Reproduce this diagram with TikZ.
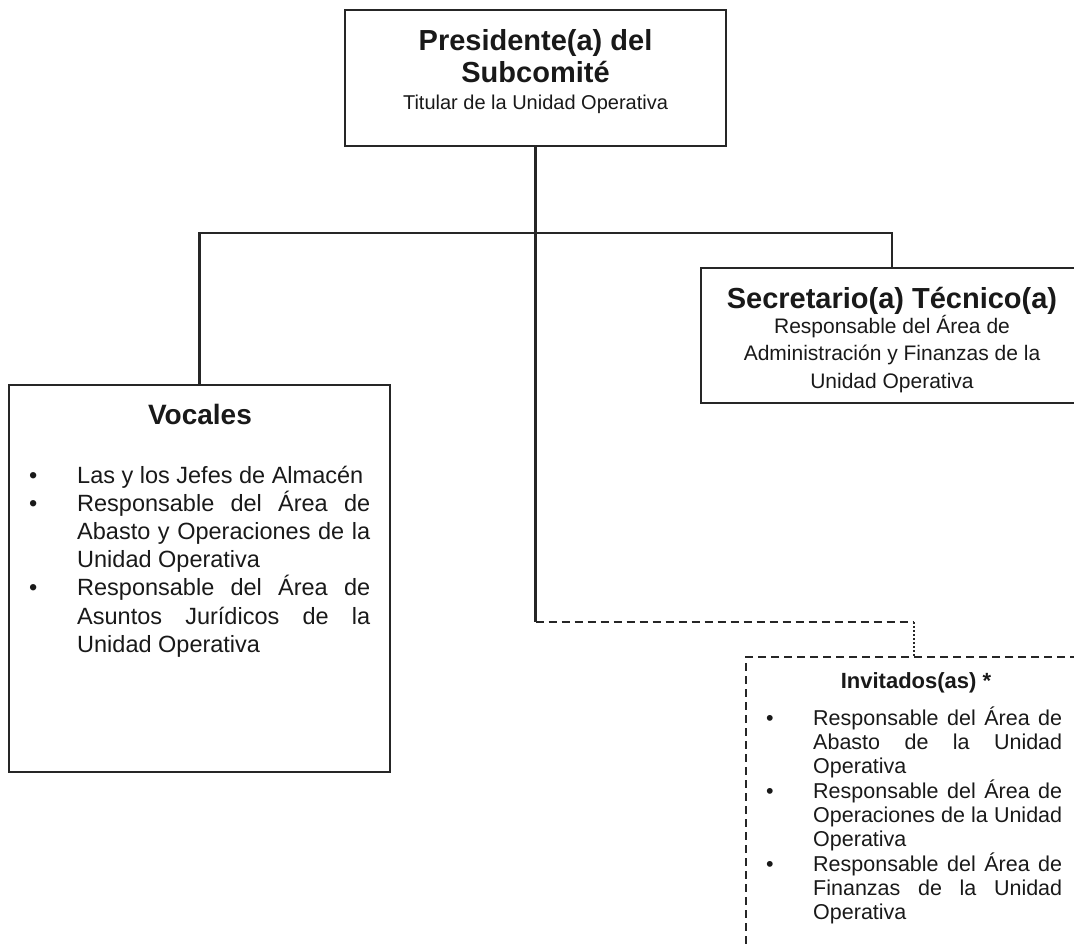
\documentclass[tikz,border=0pt]{standalone}
\usepackage{fontspec}
\setmainfont{Liberation Sans}

\newlength{\sangria}
\newcommand{\vineta}[1]{\par\noindent\hangindent=\sangria\hangafter=1%
  \makebox[\sangria][l]{\textbullet}#1\par}

\begin{document}
\begin{tikzpicture}[x=1pt,y=-1pt,
    caja/.style={draw=black!85,line width=2.2pt,rectangle,inner sep=0pt},
    cajainv/.style={draw=black!85,line width=2.2pt,dash pattern=on 8pt off 5pt,rectangle,inner sep=0pt},
    linea/.style={draw=black!85,line width=2.2pt},
    discontinua/.style={draw=black!85,line width=2pt,dash pattern=on 8pt off 5pt},
    punteada/.style={draw=black!85,line width=1.5pt,dash pattern=on 2pt off 2pt},
    texto/.style={inner sep=0pt,text=black!90}]
  \useasboundingbox (0,0) rectangle (1074,945);
  \clip (0,0) rectangle (1074,945);

  \node[caja,minimum width=381,minimum height=136] (pres) at (535.5,78) {};
  \node[caja,minimum width=382,minimum height=135] (secretario) at (892,335.5) {};
  \node[caja,minimum width=381,minimum height=387] (vocales) at (199.5,578.5) {};
  \node[cajainv,minimum width=336,minimum height=310] (invitados) at (914,812) {};

  \node[texto,anchor=north,align=center,font=\bfseries\fontsize{29}{32}\selectfont] (prestit) at (535.5,29.3)
    {Presidente(a) del\\Subcomité};
  \node[texto,anchor=north,font=\fontsize{20}{24}\selectfont] (pressub) at (535.5,95)
    {Titular de la Unidad Operativa};

  \node[texto,anchor=north,font=\bfseries\fontsize{29}{32}\selectfont] (sectit) at (892,287.5)
    {Secretario(a) Técnico(a)};
  \node[texto,anchor=north,align=center,font=\fontsize{21}{27.5}\selectfont] (secsub) at (892,315)
    {Responsable del Área de\\Administración y Finanzas de la\\Unidad Operativa};

  \node[texto,anchor=north,font=\bfseries\fontsize{28}{32}\selectfont] (voctit) at (200,404) {Vocales};
  \node[texto,anchor=north west,font=\fontsize{23.5}{28.1}\selectfont] (voclista) at (29,466)
    {\begin{minipage}{341pt}\setlength{\sangria}{48pt}\hbadness=10000
      \vineta{Las y los Jefes de Almacén}
      \vineta{Responsable~del~Área~de\linebreak Abasto~y~Operaciones~de~la\linebreak Unidad~Operativa}
      \vineta{Responsable~del~Área~de\linebreak Asuntos~Jurídicos~de~la\linebreak Unidad~Operativa}
    \end{minipage}};

  \node[texto,anchor=north,font=\bfseries\fontsize{22}{26}\selectfont] (invtit) at (916,672.5) {Invitados(as) *};
  \node[texto,anchor=north west,font=\fontsize{21.5}{24.3}\selectfont] (invlista) at (766,706.5)
    {\begin{minipage}{296pt}\setlength{\sangria}{47pt}\hbadness=10000
      \vineta{Responsable~del~Área~de\linebreak Abasto~de~la~Unidad\linebreak Operativa}
      \vineta{Responsable~del~Área~de\linebreak Operaciones~de~la~Unidad\linebreak Operativa}
      \vineta{Responsable~del~Área~de\linebreak Finanzas~de~la~Unidad\linebreak Operativa}
    \end{minipage}};

  \coordinate (barra) at (535.5,233);
  \coordinate (codo) at (535.5,622);
  \coordinate (giro) at (914,622);
  \draw[linea] (pres.south) -- (codo);
  \draw[linea] (vocales.north) |- (barra) -| (secretario.north);
  \draw[discontinua] (codo) -- (giro);
  \draw[punteada] (giro) -- (invitados.north);
\end{tikzpicture}
\end{document}
